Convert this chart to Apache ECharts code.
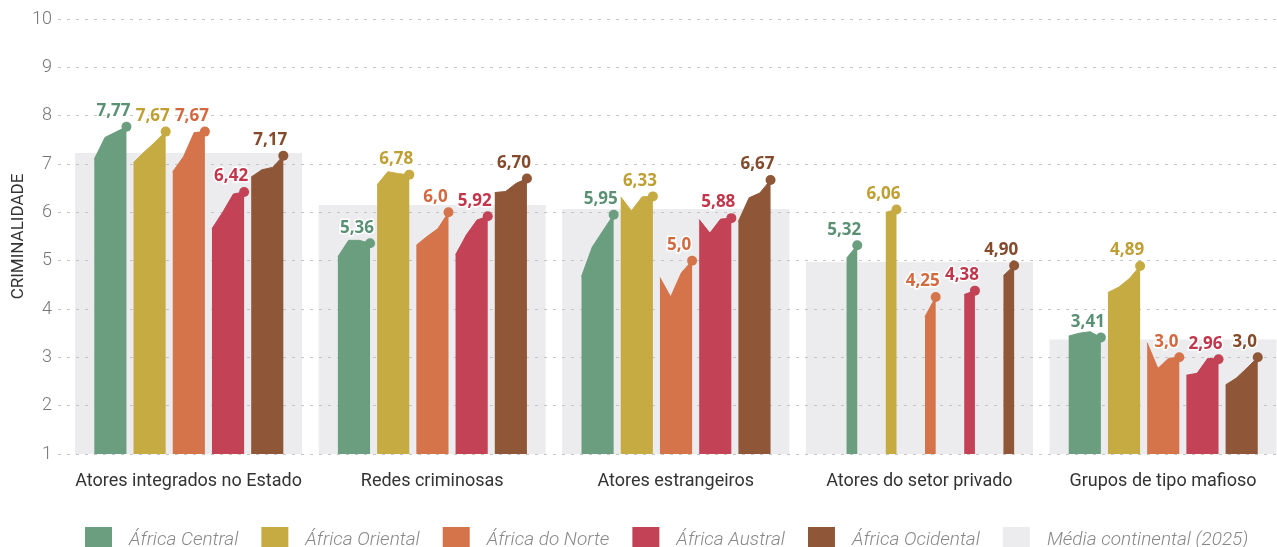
<!DOCTYPE html>
<html>
<head>
<meta charset="utf-8">
<script src="https://cdn.jsdelivr.net/npm/echarts@6/dist/echarts.min.js"></script>
<style>
  html, body { margin: 0; padding: 0; background: #fff; }
  #chart { width: 1277px; height: 547px; }
</style>
</head>
<body>
<div id="chart"></div>
<script>
// Categories (x axis) and regions (series)
const categories = ['Atores integrados no Estado', 'Redes criminosas', 'Atores estrangeiros', 'Atores do setor privado', 'Grupos de tipo mafioso'];
const regions = ['África Central', 'África Oriental', 'África do Norte', 'África Austral', 'África Ocidental'];
const years = ['2019', '2021', '2023', '2025'];

// Scores per category, one value per year (null = not measured)
const centralValues = [[7.10, 7.55, 7.66, 7.77], [5.08, 5.42, 5.42, 5.36], [4.67, 5.28, 5.62, 5.95], [null, null, 5.05, 5.32], [3.44, 3.50, 3.53, 3.41]];
const orientalValues = [[7.03, 7.25, 7.45, 7.67], [6.57, 6.84, 6.80, 6.78], [6.32, 6.03, 6.32, 6.33], [null, null, 6.00, 6.06], [4.34, 4.45, 4.63, 4.89]];
const norteValues = [[6.84, 7.15, 7.65, 7.67], [5.32, 5.50, 5.66, 6.00], [4.65, 4.25, 4.75, 5.00], [null, null, 3.84, 4.25], [3.30, 2.77, 2.98, 3.00]];
const australValues = [[5.66, 6.00, 6.38, 6.42], [5.12, 5.53, 5.84, 5.92], [5.85, 5.57, 5.86, 5.88], [null, null, 4.30, 4.38], [2.63, 2.67, 2.98, 2.96]];
const ocidentalValues = [[6.73, 6.88, 6.93, 7.17], [6.41, 6.43, 6.60, 6.70], [5.81, 6.30, 6.40, 6.67], [null, null, 4.69, 4.90], [2.43, 2.57, 2.78, 3.00]];

// 2025 labels as printed
const centralLabels = ['7,77', '5,36', '5,95', '5,32', '3,41'];
const orientalLabels = ['7,67', '6,78', '6,33', '6,06', '4,89'];
const norteLabels = ['7,67', '6,0', '5,0', '4,25', '3,0'];
const australLabels = ['6,42', '5,92', '5,88', '4,38', '2,96'];
const ocidentalLabels = ['7,17', '6,70', '6,67', '4,90', '3,0'];

const continentalAvg = [7.23, 6.15, 6.07, 4.97, 3.37];
const yTicks = [1, 2, 3, 4, 5, 6, 7, 8, 9, 10];

const regionValues = [centralValues, orientalValues, norteValues, australValues, ocidentalValues];
const regionLabels = [centralLabels, orientalLabels, norteLabels, australLabels, ocidentalLabels];
const fillColors = ['#6a9e7f', '#c6aa42', '#d5744b', '#c34256', '#8f5738'];
const textColors = ['#5a9174', '#bf9f34', '#d2693f', '#c2364b', '#844a2c'];

// layout inside one category band (band = 1 x unit)
const groupHalf = 0.387;
const barStep = 0.161;
const barSpan = 0.132;
const greyHalf = 0.466;

function regionSeries(j) {
  const data = [];
  regionValues[j].forEach((vals, i) => {
    const x0 = i + 0.5 - groupHalf + j * barStep;
    let lastIdx = -1;
    vals.forEach((v, t) => { if (v != null) lastIdx = t; });
    vals.forEach((v, t) => {
      if (v == null) return;
      const x = x0 + t * barSpan / (years.length - 1);
      if (t === lastIdx) {
        data.push({
          value: [x, v],
          symbolSize: 10,
          label: { show: true, formatter: regionLabels[j][i] }
        });
      } else {
        data.push([x, v]);
      }
    });
    data.push([i + 0.97, '-']);
  });
  return {
    name: regions[j],
    type: 'line',
    data: data,
    symbol: 'circle',
    symbolSize: 0,
    showAllSymbol: true,
    connectNulls: false,
    color: fillColors[j],
    itemStyle: { color: fillColors[j] },
    lineStyle: { color: fillColors[j], width: 1 },
    areaStyle: { color: fillColors[j], opacity: 1, origin: 'start' },
    label: {
      position: 'top',
      distance: 2,
      offset: [-13, 0],
      color: textColors[j],
      fontFamily: 'Open Sans',
      fontWeight: 700,
      fontSize: 17,
      textBorderColor: '#fff',
      textBorderWidth: 3
    },
    emphasis: { disabled: true },
    z: 3
  };
}

const chart = echarts.init(document.getElementById('chart'), null, { renderer: 'canvas' });

const series = [{
  name: 'Média continental (2025)',
  type: 'custom',
  data: continentalAvg.map((v, i) => [i, v]),
  encode: { x: 0, y: 1 },
  itemStyle: { color: '#ececee' },
  color: '#ececee',
  z: -1,
  clip: true,
  silent: true,
  renderItem: function (params, api) {
    const i = api.value(0);
    const p0 = api.coord([i + 0.5 - greyHalf, api.value(1)]);
    const p1 = api.coord([i + 0.5 + greyHalf, yTicks[0]]);
    return {
      type: 'rect',
      shape: { x: p0[0], y: p0[1], width: p1[0] - p0[0], height: p1[1] - p0[1] },
      style: { fill: '#ececee' }
    };
  }
}];
for (let j = 0; j < regions.length; j++) series.push(regionSeries(j));

chart.setOption({
  animation: false,
  backgroundColor: '#fff',
  grid: { left: 58, right: 0, top: 19, bottom: 93, outerBoundsMode: 'none' },
  legend: {
    data: regions.concat(['Média continental (2025)']),
    left: 80,
    top: 522,
    icon: 'rect',
    itemWidth: 27,
    itemHeight: 27,
    itemGap: 23,
    textStyle: {
      fontFamily: 'Roboto',
      fontWeight: 300,
      fontStyle: 'italic',
      fontSize: 19,
      color: '#888',
      padding: [0, 0, 0, 12]
    }
  },
  xAxis: {
    type: 'value',
    min: -0.036,
    max: 4.968,
    axisLine: { show: false },
    axisTick: { show: false },
    splitLine: { show: false },
    axisLabel: {
      customValues: categories.map((c, i) => i + 0.5),
      formatter: function (v) { return categories[Math.floor(v)]; },
      margin: 18,
      fontFamily: 'Roboto',
      fontSize: 18,
      color: '#333'
    }
  },
  yAxis: {
    type: 'value',
    min: yTicks[0],
    max: yTicks[yTicks.length - 1],
    interval: 1,
    name: 'CRIMINALIDADE',
    nameLocation: 'middle',
    nameGap: 31,
    nameMoveOverlap: false,
    nameTextStyle: { fontFamily: 'Roboto', fontWeight: 400, fontSize: 17, color: '#333' },
    axisLine: { show: false },
    axisTick: { show: false },
    axisLabel: { margin: 6, fontFamily: 'Roboto', fontWeight: 300, fontSize: 18, color: '#777' },
    splitLine: { show: true, lineStyle: { color: '#c4c4c4', type: [3, 6], width: 1 } }
  },
  series: series
});
</script>
</body>
</html>
